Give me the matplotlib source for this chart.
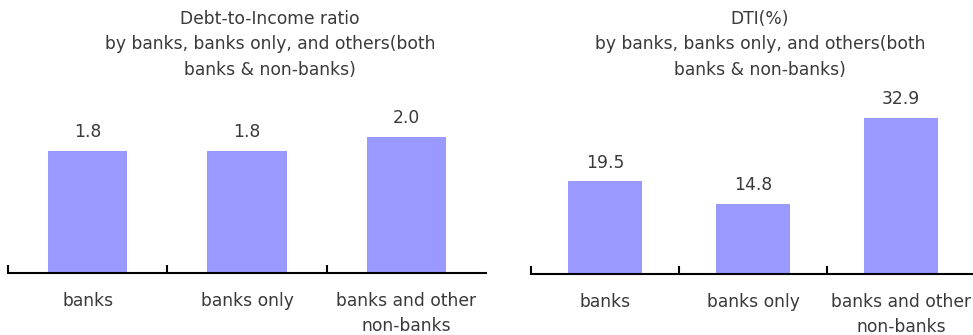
import matplotlib
matplotlib.use("Agg")
import matplotlib.pyplot as plt

categories = ["banks", "banks only", "banks and other\nnon-banks"]
dti_ratio = [1.8, 1.8, 2.0]
dti_pct = [19.5, 14.8, 32.9]
value_labels_left = ["1.8", "1.8", "2.0"]
value_labels_right = ["19.5", "14.8", "32.9"]
title_left = "Debt-to-Income ratio\nby banks, banks only, and others(both\nbanks & non-banks)"
title_right = "DTI(%)\nby banks, banks only, and others(both\nbanks & non-banks)"

plt.rcParams['font.family'] = ['DejaVu Sans']
W, H = 973, 335
fig = plt.figure(figsize=(W/100, H/100), dpi=100)
bar_color = "#9999FF"
txt_color = "#3a3a3a"
fs = 12.3

def make_axes(x0, x1, ybot, ytop):
    return fig.add_axes([x0/W, 1-ybot/H, (x1-x0)/W, (ybot-ytop)/H])

axL = make_axes(8, 486, 273, 103)
axR = make_axes(531, 975, 274, 84)

for ax, vals, labs, ymax, title, tx in [
        (axL, dti_ratio, value_labels_left, 2.5, title_left, 270),
        (axR, dti_pct, value_labels_right, 40, title_right, 760)]:
    x = list(range(len(vals)))
    ax.bar(x, vals, width=0.5, color=bar_color)
    ax.set_xlim(-0.5, len(vals)-0.5)
    ax.set_ylim(0, ymax)
    for xi, v, l in zip(x, vals, labs):
        ax.annotate(l, (xi, v), xytext=(0, 7), textcoords="offset points",
                    ha="center", va="bottom", fontsize=fs, color=txt_color)
    for s in ["top", "right", "left"]:
        ax.spines[s].set_visible(False)
    ax.spines["bottom"].set_linewidth(1.5)
    ax.set_yticks([])
    ax.set_xticks([-0.5, 0.5, 1.5])
    ax.set_xticklabels([])
    ax.tick_params(axis="x", direction="in", length=6, width=1.5)
    for xi, c in zip(x, categories):
        ax.annotate(c, (xi, 0), xycoords=("data", "axes fraction"),
                    xytext=(0, -14), textcoords="offset points",
                    ha="center", va="top", fontsize=fs,
                    color=txt_color, linespacing=1.45)
    fig.text(tx/W, 1-10/H, title, ha="center", va="top", fontsize=fs,
             color=txt_color, linespacing=1.52)

fig.savefig("out.png", dpi=100)
